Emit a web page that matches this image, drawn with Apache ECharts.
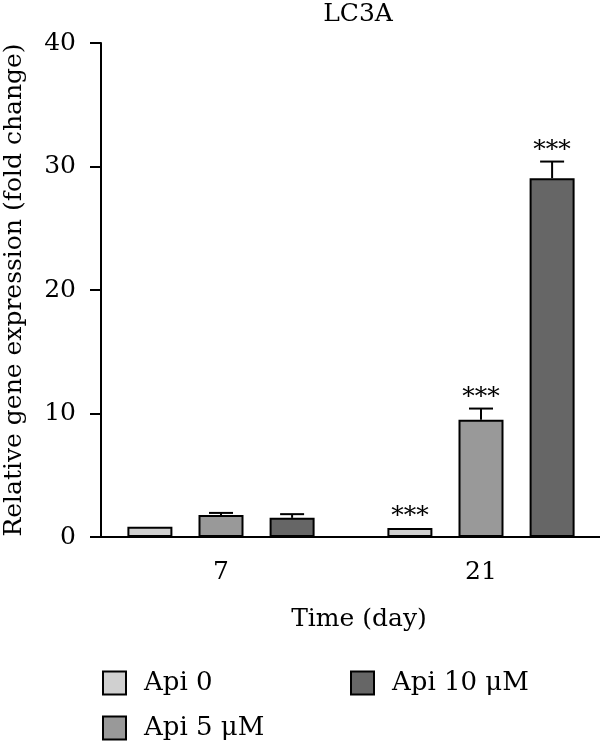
<!DOCTYPE html>
<html>
<head>
    <meta charset="utf-8">
    <title>LC3A</title>
</head>
<body style="margin:0">
    <div id="main" style="width:600px;height:741px"></div>
    <script src="https://cdn.jsdelivr.net/npm/echarts@6/dist/echarts.min.js"></script>
    <script type="text/javascript">
        // data
        var categories = ['7', '21'];
        var seriesNames = ['Api 0', 'Api 5 μM', 'Api 10 μM'];
        var api0 = [0.82, 0.73];
        var api0Err = [0, 0];
        var api5 = [1.78, 9.5];
        var api5Err = [0.17, 0.9];
        var api10 = [1.55, 29.05];
        var api10Err = [0.3, 1.35];
        var api0Sig = ['', '***'];
        var api5Sig = ['', '***'];
        var api10Sig = ['', '***'];
        var yTicks = [0, 10, 20, 30, 40];

        var colors = ['#d0d0d0', '#999999', '#666666'];
        var font = 'DejaVu Serif';
        var barWidth = 45;
        var gapRatio = 0.58;
        var barStep = barWidth * (1 + gapRatio);

        var myChart = echarts.init(document.getElementById('main'));

        function barSeries(k, vals) {
            return {
                name: seriesNames[k],
                type: 'bar',
                data: vals,
                barWidth: barWidth,
                barGap: (gapRatio * 100) + '%',
                itemStyle: { color: colors[k], borderColor: '#000', borderWidth: 2 }
            };
        }

        // error bars + significance stars, drawn over the bars
        function errSeries(k, vals, errs, sigs) {
            return {
                type: 'custom',
                z: 5,
                data: vals.map(function (v, i) { return [i, v, errs[i]]; }),
                renderItem: function (params, api) {
                    var i = api.value(0), v = api.value(1), e = api.value(2);
                    var base = api.coord([i, v]);
                    var top = api.coord([i, v + e]);
                    var x = base[0] + (k - 1) * barStep;
                    var kids = [];
                    var st = { stroke: '#000', lineWidth: 2 };
                    if (e > 0) {
                        kids.push({ type: 'line', shape: { x1: x, y1: base[1], x2: x, y2: top[1] }, style: st });
                        kids.push({ type: 'line', shape: { x1: x - 12, y1: top[1], x2: x + 12, y2: top[1] }, style: st });
                    }
                    if (sigs[i]) {
                        kids.push({
                            type: 'text',
                            style: {
                                text: sigs[i], x: x, y: top[1] - 11,
                                align: 'center', verticalAlign: 'middle',
                                fontFamily: font, fontSize: 25, fill: '#000'
                            }
                        });
                    }
                    return { type: 'group', children: kids };
                }
            };
        }

        var legendText = { fontFamily: font, fontSize: 26, color: '#000', lineHeight: 23, padding: [0, 0, 0, 13] };

        var option = {
            animation: false,
            title: {
                text: 'LC3A',
                left: 353,
                top: -3,
                textAlign: 'center',
                textStyle: { fontFamily: font, fontSize: 25, fontWeight: 'normal', color: '#000' }
            },
            legend: [{
                data: [seriesNames[0], seriesNames[1]],
                orient: 'vertical',
                icon: 'rect',
                left: 97,
                top: 665,
                height: 76,
                padding: 5,
                itemWidth: 23,
                itemHeight: 23,
                itemGap: 19,
                textStyle: legendText
            }, {
                data: [seriesNames[2]],
                icon: 'rect',
                left: 345,
                top: 665,
                padding: 5,
                itemWidth: 23,
                itemHeight: 23,
                textStyle: legendText
            }],
            grid: { left: 91, right: -11, top: 43, bottom: 204, outerBoundsMode: 'none' },
            xAxis: {
                type: 'category',
                data: categories,
                name: 'Time (day)',
                nameLocation: 'middle',
                nameGap: 70,
                nameTextStyle: { fontFamily: font, fontSize: 25, color: '#000', padding: [0, 0, 0, 16] },
                axisLine: { lineStyle: { color: '#000', width: 2 } },
                axisTick: { alignWithLabel: true, length: 10, lineStyle: { color: '#000', width: 2 } },
                axisLabel: { fontFamily: font, fontSize: 25, color: '#000', margin: 23 }
            },
            yAxis: {
                type: 'value',
                min: yTicks[0],
                max: yTicks[yTicks.length - 1],
                interval: 10,
                offset: -10,
                name: 'Relative gene expression (fold change)',
                nameLocation: 'middle',
                nameGap: 74,
                nameTextStyle: { fontFamily: font, fontSize: 25, color: '#000' },
                axisLine: { show: true, lineStyle: { color: '#000', width: 2 } },
                axisTick: { show: true, length: 11, lineStyle: { color: '#000', width: 2 } },
                axisLabel: { fontFamily: font, fontSize: 25, color: '#000', margin: 25 },
                splitLine: { show: false }
            },
            series: [
                barSeries(0, api0),
                barSeries(1, api5),
                barSeries(2, api10),
                errSeries(0, api0, api0Err, api0Sig),
                errSeries(1, api5, api5Err, api5Sig),
                errSeries(2, api10, api10Err, api10Sig)
            ]
        };

        myChart.setOption(option);
    </script>
</body>
</html>
